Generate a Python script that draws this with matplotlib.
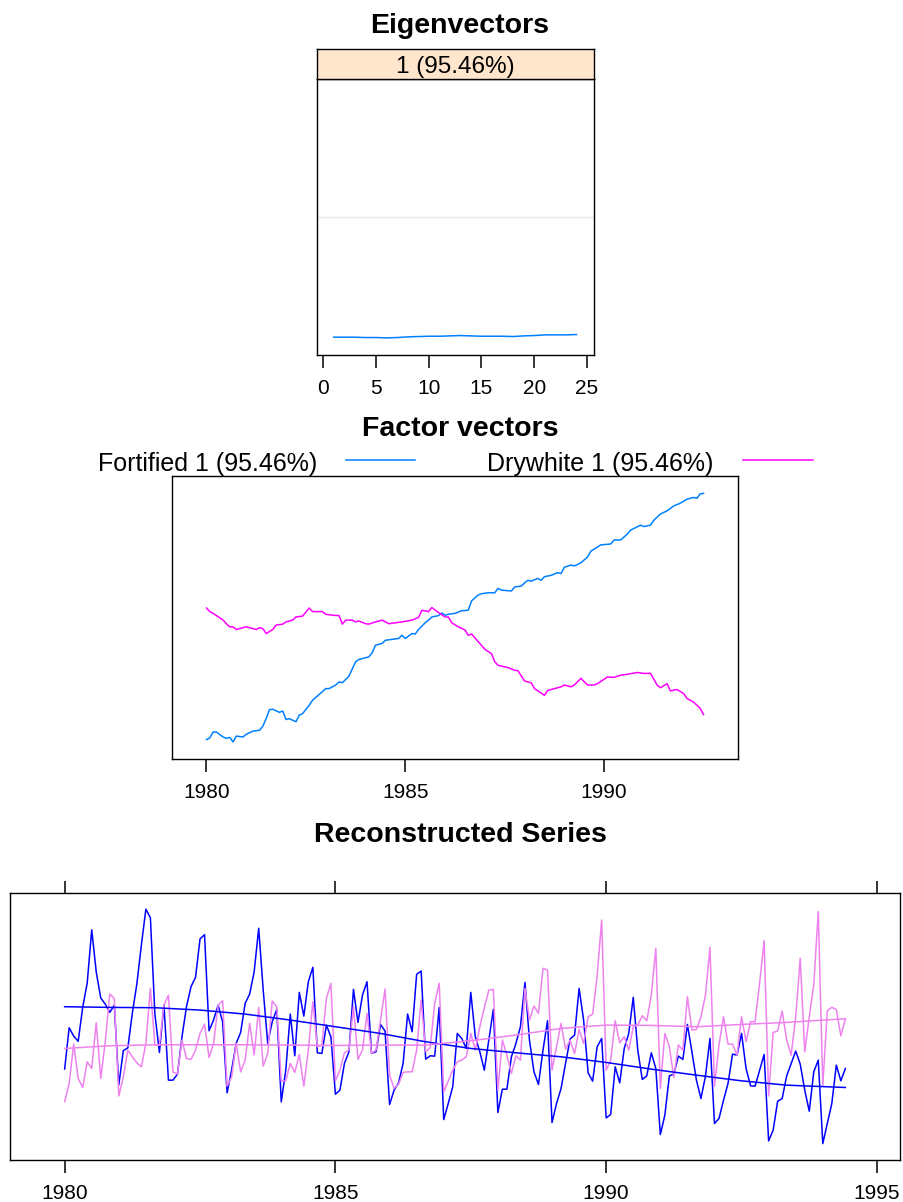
import numpy as np
import matplotlib.pyplot as plt
from matplotlib.lines import Line2D

plt.rcParams['font.family'] = ['Liberation Sans', 'DejaVu Sans']

# eigenvector 1, window length 24
eig_index = list(range(1, 25))
eig_values = [-0.2038, -0.2038, -0.2038, -0.2044, -0.2044, -0.2050, -0.2044, -0.2033,
              -0.2027, -0.2022, -0.2022, -0.2016, -0.2010, -0.2016, -0.2022, -0.2022,
              -0.2022, -0.2027, -0.2016, -0.2010, -0.1999, -0.1999, -0.1999, -0.1993]
eig_label = '1 (95.46%)'

# factor vectors: months after Jan 1980 and value
fort_fac_month = [0, 1, 2, 3, 5, 6, 7, 8, 9, 11, 12, 14, 16, 17, 18, 19, 20, 22, 23, 24,
                  25, 27, 28, 29, 31, 32, 34, 36, 37, 39, 40, 41, 43, 45, 46, 48, 49, 50, 51, 53,
                  54, 56, 58, 59, 60, 62, 63, 64, 66, 67, 68, 70, 71, 72, 73, 75, 77, 79, 80, 82,
                  83, 85, 87, 88, 89, 92, 93, 95, 96, 97, 98, 100, 101, 102, 104, 106, 107, 108, 110, 111,
                  113, 115, 116, 119, 122, 123, 125, 127, 128, 131, 132, 134, 135, 137, 139, 141, 143, 145, 147, 148,
                  149, 150]
fort_fac_value = [-0.0900, -0.0896, -0.0883, -0.0883, -0.0894, -0.0897, -0.0895, -0.0905, -0.0892, -0.0894,
                  -0.0888, -0.0881, -0.0879, -0.0870, -0.0853, -0.0833, -0.0832, -0.0839, -0.0836, -0.0855,
                  -0.0853, -0.0860, -0.0845, -0.0842, -0.0823, -0.0812, -0.0799, -0.0786, -0.0786, -0.0778,
                  -0.0771, -0.0773, -0.0758, -0.0726, -0.0721, -0.0717, -0.0715, -0.0706, -0.0689, -0.0685,
                  -0.0678, -0.0676, -0.0674, -0.0667, -0.0674, -0.0663, -0.0664, -0.0654, -0.0639, -0.0633,
                  -0.0626, -0.0623, -0.0617, -0.0622, -0.0620, -0.0618, -0.0612, -0.0611, -0.0590, -0.0577,
                  -0.0574, -0.0572, -0.0572, -0.0562, -0.0566, -0.0568, -0.0559, -0.0557, -0.0550, -0.0544,
                  -0.0546, -0.0540, -0.0544, -0.0536, -0.0533, -0.0527, -0.0529, -0.0515, -0.0510, -0.0512,
                  -0.0505, -0.0492, -0.0479, -0.0465, -0.0463, -0.0454, -0.0454, -0.0441, -0.0432, -0.0421,
                  -0.0424, -0.0421, -0.0410, -0.0396, -0.0389, -0.0378, -0.0372, -0.0363, -0.0359, -0.0361,
                  -0.0351, -0.0350]
dry_fac_month = [0, 1, 2, 5, 6, 7, 8, 9, 10, 12, 14, 15, 16, 17, 18, 20, 21, 23, 24, 26,
                 27, 29, 31, 32, 35, 36, 38, 40, 41, 42, 44, 45, 46, 48, 49, 51, 53, 54, 55, 57,
                 59, 62, 64, 65, 67, 68, 70, 72, 73, 74, 76, 78, 79, 80, 82, 84, 86, 87, 88, 91,
                 93, 94, 96, 98, 99, 102, 103, 105, 107, 108, 110, 111, 113, 115, 117, 118, 121, 123, 125, 127,
                 130, 132, 134, 136, 137, 139, 140, 142, 144, 145, 147, 149, 150]
dry_fac_value = [-0.0606, -0.0614, -0.0618, -0.0633, -0.0641, -0.0648, -0.0648, -0.0654, -0.0652, -0.0648,
                 -0.0652, -0.0654, -0.0650, -0.0652, -0.0663, -0.0654, -0.0644, -0.0642, -0.0637, -0.0633,
                 -0.0626, -0.0624, -0.0606, -0.0614, -0.0614, -0.0620, -0.0622, -0.0623, -0.0642, -0.0633,
                 -0.0633, -0.0637, -0.0635, -0.0641, -0.0642, -0.0637, -0.0633, -0.0637, -0.0641, -0.0639,
                 -0.0637, -0.0633, -0.0627, -0.0611, -0.0614, -0.0605, -0.0616, -0.0626, -0.0626, -0.0639,
                 -0.0648, -0.0655, -0.0667, -0.0664, -0.0681, -0.0698, -0.0708, -0.0726, -0.0734, -0.0739,
                 -0.0745, -0.0746, -0.0769, -0.0773, -0.0786, -0.0801, -0.0790, -0.0786, -0.0782, -0.0778,
                 -0.0782, -0.0778, -0.0763, -0.0778, -0.0778, -0.0775, -0.0760, -0.0761, -0.0756, -0.0754,
                 -0.0750, -0.0752, -0.0752, -0.0778, -0.0784, -0.0775, -0.0791, -0.0788, -0.0797, -0.0808,
                 -0.0816, -0.0830, -0.0844]
fort_legend = 'Fortified 1 (95.46%)'
dry_legend = 'Drywhite 1 (95.46%)'

# original monthly series from Jan 1980
fortified = [2585, 3368, 3210, 3111, 3756, 4216, 5225, 4426, 3932, 3816, 3661, 3795,
             2285, 2934, 2985, 3646, 4198, 4935, 5618, 5454, 3624, 2898, 3802, 2374,
             2374, 2488, 3197, 3767, 4147, 4324, 5052, 5134, 3311, 3514, 3798, 3482,
             2134, 2564, 3070, 3279, 3830, 4007, 4431, 5254, 4083, 3070, 3482, 3716,
             1963, 2564, 3627, 2836, 4039, 3589, 4241, 4514, 2893, 2881, 3418, 3197,
             2108, 2184, 2691, 2912, 4096, 3469, 3988, 4241, 2881, 2912, 3431, 3305,
             1912, 2184, 2323, 2691, 3627, 3292, 4381, 4444, 2773, 2836, 2830, 3754,
             1627, 1931, 2248, 3260, 3165, 2975, 4039, 3197, 2912, 2564, 3134, 3716,
             1760, 2203, 2203, 2817, 3070, 3387, 4229, 3134, 2532, 2292, 2944, 3501,
             1570, 1931, 2216, 2691, 3153, 3229, 4115, 3514, 2513, 2355, 3007, 3165,
             1659, 1722, 2627, 2323, 2975, 3260, 3944, 2944, 2387, 2456, 2893, 2596,
             1342, 1709, 2456, 2488, 2830, 2767, 3431, 2912, 2374, 2026, 2450, 3165,
             1551, 1646, 1994, 2311, 2868, 2849, 3260, 2596, 2266, 2260, 2564, 2861,
             1222, 1425, 1975, 2026, 2456, 2691, 2925, 2678, 2184, 1785, 2532, 2754,
             1171, 1551, 1931, 2659, 2361, 2596]
drywhite = [1963, 2311, 3058, 2406, 2235, 2722, 2596, 3463, 2406, 3102, 4007, 3925,
            2077, 2437, 2944, 2817, 2703, 2627, 3070, 4115, 3039, 3039, 3798, 3988,
            2532, 2488, 3134, 2786, 2767, 2944, 3260, 3438, 2805, 3070, 3798, 3881,
            2260, 2437, 3070, 2532, 2754, 3450, 2849, 3754, 2640, 2881, 3874, 3767,
            2355, 2361, 2691, 2520, 2861, 2260, 2944, 3862, 3007, 3039, 3925, 4210,
            2361, 2564, 2893, 2944, 3767, 2767, 2944, 3640, 2881, 2944, 3514, 4102,
            2469, 2216, 2298, 2520, 2532, 2532, 2944, 3893, 2912, 2988, 3830, 4210,
            2153, 2355, 2564, 2722, 2754, 2817, 3260, 2944, 3387, 3748, 4083, 4096,
            2184, 3134, 2849, 2501, 2836, 2754, 4115, 3514, 3779, 3640, 4495, 4463,
            2564, 3007, 3450, 2963, 3134, 2881, 3336, 3070, 3577, 3627, 4349, 5412,
            2564, 2754, 3501, 3083, 3197, 2944, 3387, 3418, 3596, 3501, 3988, 4874,
            2216, 3260, 3007, 2425, 3039, 2944, 3957, 3324, 3336, 3577, 3988, 4893,
            2260, 3039, 3577, 3058, 3058, 2849, 3577, 3102, 3482, 3482, 4210, 5020,
            2077, 3279, 3305, 3684, 3134, 2849, 3577, 4685, 2912, 3577, 4178, 5571,
            2279, 3691, 3754, 3716, 3216, 3533]

# reconstructed trend (component 1), read at these months
trend_month = [0, 10, 20, 30, 40, 50, 60, 70, 80, 90, 100, 110, 120, 130, 140, 150, 160, 173]
fortified_trend = [3767, 3754, 3748, 3703, 3627, 3514, 3387, 3260, 3102, 2975, 2893, 2817,
                   2710, 2583, 2469, 2361, 2279, 2235]
drywhite_trend = [2975, 3026, 3045, 3045, 3045, 3039, 3032, 3039, 3039, 3121, 3229, 3355,
                  3418, 3412, 3387, 3431, 3469, 3539]

W, H = 904, 1202
fig = plt.figure(figsize=(W / 100, H / 100), dpi=100)


def box(l, t, r, b):
    return [l / W, 1 - b / H, (r - l) / W, (b - t) / H]


def padded(lo, hi, f=0.07):
    d = (hi - lo) * f
    return lo - d, hi + d


def style(ax, top=False):
    for s in ax.spines.values():
        s.set_linewidth(1.0)
        s.set_color('black')
    ax.set_yticks([])
    ax.tick_params(axis='x', direction='out', length=9, width=1.1, pad=8,
                   labelsize=15, top=top, labeltop=False)


def years(months):
    return [1980 + m / 12 for m in months]


# --- Eigenvectors
ax1 = fig.add_axes(box(316.7, 79, 593.5, 355))
ax1.axhline(0, color='#e6e6e6', lw=1.0)
ax1.plot(eig_index, eig_values, color='#0080ff', lw=1.1)
ax1.set_xlim(padded(min(eig_index), max(eig_index)))
ax1.set_ylim(-0.234, 0.234)
ax1.set_xticks([0, 5, 10, 15, 20, 25])
style(ax1)
strip = fig.add_axes(box(316.7, 48.5, 593.5, 79))
strip.set_facecolor('#ffe5cc')
strip.set_xticks([])
strip.set_yticks([])
for s in strip.spines.values():
    s.set_linewidth(1.0)
strip.text(0.5, 0.2, eig_label, ha='center', va='baseline', fontsize=17.5,
           transform=strip.transAxes)
fig.text(460 / W, 1 - 33 / H, 'Eigenvectors', ha='center', va='baseline',
         fontsize=20.5, fontweight='bold')

# --- Factor vectors
ax2 = fig.add_axes(box(171.7, 476, 738.3, 759.3))
ax2.plot(years(fort_fac_month), fort_fac_value, color='#0080ff', lw=1.1)
ax2.plot(years(dry_fac_month), dry_fac_value, color='#ff00ff', lw=1.1)
ax2.set_xlim(padded(1980, 1980 + max(fort_fac_month) / 12))
ax2.set_ylim(padded(min(fort_fac_value + dry_fac_value), max(fort_fac_value + dry_fac_value)))
ax2.set_xticks([1980, 1985, 1990])
style(ax2)
fig.text(460 / W, 1 - 436 / H, 'Factor vectors', ha='center', va='baseline',
         fontsize=20.5, fontweight='bold')
fig.text(317 / W, 1 - 470.7 / H, fort_legend, ha='right', va='baseline', fontsize=18)
fig.text(713 / W, 1 - 470.7 / H, dry_legend, ha='right', va='baseline', fontsize=18)
fig.add_artist(Line2D([346 / W, 415 / W], [1 - 460.3 / H] * 2, color='#0080ff', lw=1.1))
fig.add_artist(Line2D([743 / W, 813 / W], [1 - 460.3 / H] * 2, color='#ff00ff', lw=1.1))

# --- Reconstructed series
ax3 = fig.add_axes(box(10, 892.7, 900, 1160))
t = years(range(len(fortified)))
ax3.plot(t, fortified, color='blue', lw=1.1)
ax3.plot(t, drywhite, color='violet', lw=1.1)
ax3.plot(years(trend_month), fortified_trend, color='blue', lw=1.1)
ax3.plot(years(trend_month), drywhite_trend, color='violet', lw=1.1)
ax3.set_xlim(padded(t[0], t[-1]))
allv = fortified + drywhite
ax3.set_ylim(padded(min(allv), max(allv)))
ax3.set_xticks([1980, 1985, 1990, 1995])
style(ax3, top=True)
fig.text(460 / W, 1 - 842 / H, 'Reconstructed Series', ha='center', va='baseline',
         fontsize=20.5, fontweight='bold')

plt.savefig('out.png', dpi=100)
